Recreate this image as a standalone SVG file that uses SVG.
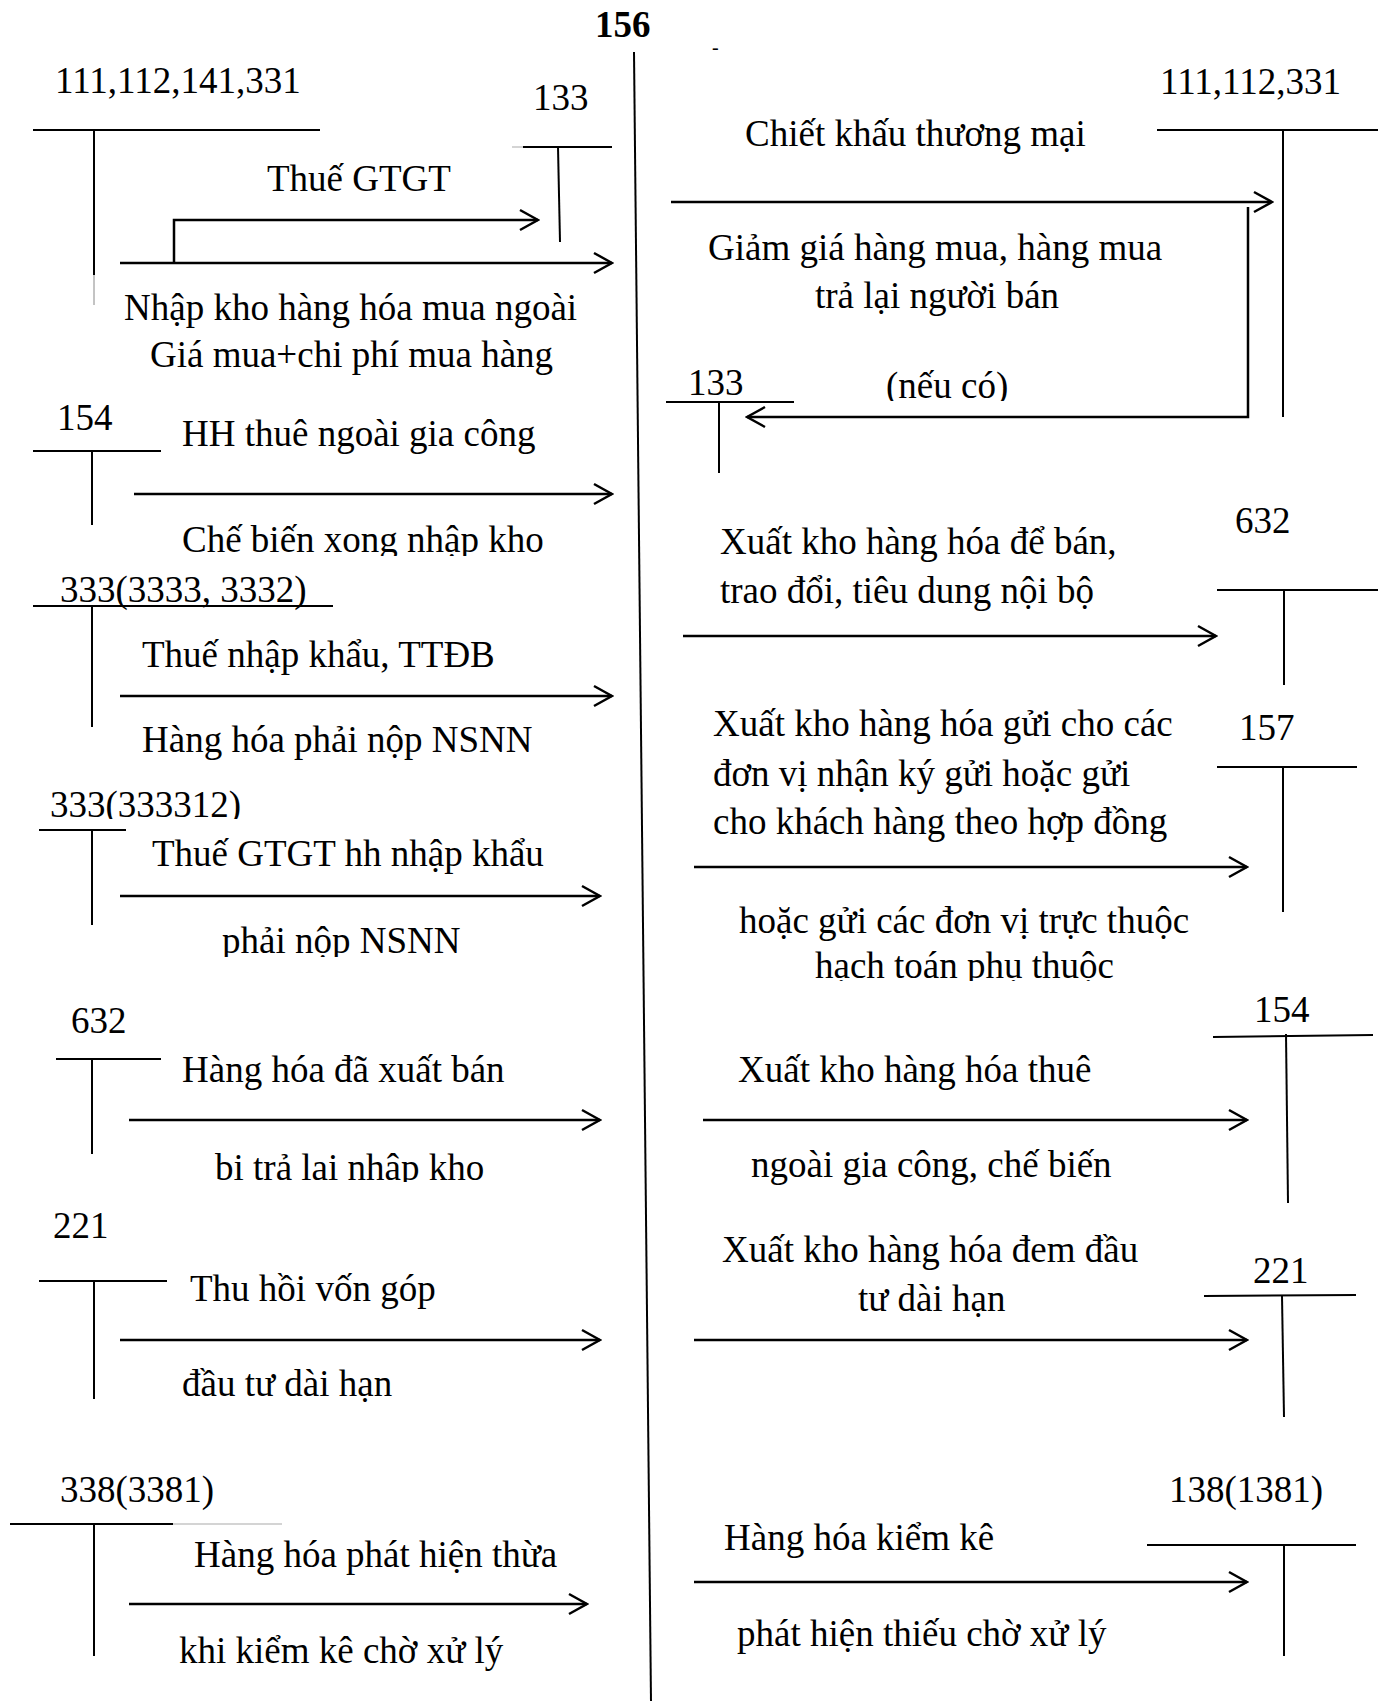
<svg xmlns="http://www.w3.org/2000/svg" width="1378" height="1701" viewBox="0 0 1378 1701">
<style>
text{font-family:"Liberation Serif","Times New Roman",serif;font-size:37px;fill:#000}
.b{font-weight:bold}
.t{stroke:#000;stroke-width:2;fill:none}
.lt{stroke:#d4d4d4;stroke-width:2;fill:none}
.a{stroke:#000;stroke-width:2.5;fill:none;marker-end:url(#arr)}
</style>
<defs>
<marker id="arr" markerUnits="userSpaceOnUse" viewBox="-21 -12 23 24" markerWidth="23" markerHeight="24" refX="0" refY="0" orient="auto">
<path d="M-18,-10 L0,0 L-18,10" fill="none" stroke="#000" stroke-width="2.5"/>
</marker>
<clipPath id="k556" clipPathUnits="userSpaceOnUse"><rect x="0" y="0" width="1378" height="556"/></clipPath>
<clipPath id="k819" clipPathUnits="userSpaceOnUse"><rect x="0" y="0" width="1378" height="819"/></clipPath>
<clipPath id="k957" clipPathUnits="userSpaceOnUse"><rect x="0" y="0" width="1378" height="957"/></clipPath>
<clipPath id="k1182" clipPathUnits="userSpaceOnUse"><rect x="0" y="0" width="1378" height="1182"/></clipPath>
<clipPath id="k401" clipPathUnits="userSpaceOnUse"><rect x="0" y="0" width="1378" height="401"/></clipPath>
<clipPath id="k981" clipPathUnits="userSpaceOnUse"><rect x="0" y="0" width="1378" height="981"/></clipPath>
</defs>
<rect width="1378" height="1701" fill="#fff"/>

<g id="acc-156">
<line class="t" x1="634" y1="52" x2="651" y2="1701"/>
<text class="b" x="595" y="37">156</text>
<text x="712" y="54" style="font-size:20px">-</text>
</g>

<g id="acc-111-112-141-331">
<text x="55" y="93">111,112,141,331</text>
<line class="t" x1="33" y1="130" x2="320" y2="130"/>
<line class="t" x1="94" y1="130" x2="94" y2="275"/>
<line x1="94" y1="275" x2="94" y2="305" stroke="#888" stroke-width="1"/>
</g>

<g id="acc-133-left">
<text x="533" y="110">133</text>
<line class="lt" x1="512" y1="147" x2="523" y2="147"/>
<line class="t" x1="523" y1="147" x2="612" y2="147"/>
<line class="t" x1="558" y1="147" x2="560" y2="242"/>
</g>

<g id="acc-154-left">
<text x="57" y="430">154</text>
<line class="t" x1="33" y1="451" x2="161" y2="451"/>
<line class="t" x1="92" y1="451" x2="92" y2="525"/>
</g>

<g id="acc-333-3333-3332">
<text x="60" y="602">333(3333, 3332)</text>
<line class="t" x1="33" y1="606" x2="333" y2="606"/>
<line class="t" x1="92" y1="606" x2="92" y2="727"/>
</g>

<g id="acc-333-333312">
<text x="50" y="817" clip-path="url(#k819)">333(333312)</text>
<line class="t" x1="39" y1="830" x2="126" y2="830"/>
<line class="t" x1="92" y1="830" x2="92" y2="925"/>
</g>

<g id="acc-632-left">
<text x="71" y="1033">632</text>
<line class="t" x1="56" y1="1059" x2="161" y2="1059"/>
<line class="t" x1="92" y1="1059" x2="92" y2="1154"/>
</g>

<g id="acc-221-left">
<text x="53" y="1238">221</text>
<line class="t" x1="39" y1="1281" x2="167" y2="1281"/>
<line class="t" x1="94" y1="1281" x2="94" y2="1399"/>
</g>

<g id="acc-338-3381">
<text x="60" y="1502">338(3381)</text>
<line class="t" x1="10" y1="1524" x2="173" y2="1524"/>
<line class="lt" x1="173" y1="1524" x2="282" y2="1524"/>
<line class="t" x1="94" y1="1524" x2="94" y2="1656"/>
</g>

<g id="acc-111-112-331">
<text x="1160" y="94">111,112,331</text>
<line class="t" x1="1157" y1="130" x2="1378" y2="130"/>
<line class="t" x1="1283" y1="130" x2="1283" y2="417"/>
</g>

<g id="acc-133-right">
<text x="688" y="395">133</text>
<line class="t" x1="666" y1="402" x2="794" y2="402"/>
<line class="t" x1="719" y1="402" x2="719" y2="473"/>
</g>

<g id="acc-632-right">
<text x="1235" y="533">632</text>
<line class="t" x1="1217" y1="590" x2="1378" y2="590"/>
<line class="t" x1="1284" y1="590" x2="1284" y2="685"/>
</g>

<g id="acc-157">
<text x="1239" y="740">157</text>
<line class="t" x1="1217" y1="767" x2="1357" y2="767"/>
<line class="t" x1="1283" y1="767" x2="1283" y2="912"/>
</g>

<g id="acc-154-right">
<text x="1254" y="1022">154</text>
<line class="t" x1="1213" y1="1037" x2="1373" y2="1035"/>
<line class="t" x1="1286" y1="1034" x2="1288" y2="1203"/>
</g>

<g id="acc-221-right">
<text x="1253" y="1283">221</text>
<line class="t" x1="1204" y1="1296" x2="1356" y2="1295"/>
<line class="t" x1="1282" y1="1296" x2="1284" y2="1417"/>
</g>

<g id="acc-138-1381">
<text x="1169" y="1502">138(1381)</text>
<line class="t" x1="1147" y1="1545" x2="1356" y2="1545"/>
<line class="t" x1="1284" y1="1545" x2="1284" y2="1656"/>
</g>

<g id="connectors">
<path class="a" d="M120,263 H612"/>
<path class="a" d="M174,263 V220 H538"/>
<path class="a" d="M134,494 H612"/>
<path class="a" d="M120,696 H612"/>
<path class="a" d="M120,896 H600"/>
<path class="a" d="M129,1120 H600"/>
<path class="a" d="M120,1340 H600"/>
<path class="a" d="M129,1604 H587"/>
<path class="a" d="M671,202 H1272"/>
<path class="a" d="M1248,207 V417 H747"/>
<path class="a" d="M683,636 H1216"/>
<path class="a" d="M694,867 H1247"/>
<path class="a" d="M703,1120 H1247"/>
<path class="a" d="M694,1340 H1247"/>
<path class="a" d="M694,1582 H1247"/>
</g>

<g id="labels">
<text x="267" y="191">Thuế GTGT</text>
<text x="124" y="320">Nhập kho hàng hóa mua ngoài</text>
<text x="150" y="367">Giá mua+chi phí mua hàng</text>
<text x="182" y="446">HH thuê ngoài gia công</text>
<text x="182" y="552" clip-path="url(#k556)">Chế biến xong nhập kho</text>
<text x="142" y="667">Thuế nhập khẩu, TTĐB</text>
<text x="142" y="752">Hàng hóa phải nộp NSNN</text>
<text x="152" y="866">Thuế GTGT hh nhập khẩu</text>
<text x="222" y="953" clip-path="url(#k957)">phải nộp NSNN</text>
<text x="182" y="1082">Hàng hóa đã xuất bán</text>
<text x="215" y="1180" clip-path="url(#k1182)">bị trả lại nhập kho</text>
<text x="190" y="1301">Thu hồi vốn góp</text>
<text x="182" y="1396">đầu tư dài hạn</text>
<text x="194" y="1567">Hàng hóa phát hiện thừa</text>
<text x="179" y="1663">khi kiểm kê chờ xử lý</text>
<text x="745" y="146">Chiết khấu thương mại</text>
<text x="708" y="260">Giảm giá hàng mua, hàng mua</text>
<text x="815" y="308">trả lại người bán</text>
<text x="886" y="398" clip-path="url(#k401)">(nếu có)</text>
<text x="720" y="554">Xuất kho hàng hóa để bán,</text>
<text x="720" y="603">trao đổi, tiêu dung nội bộ</text>
<text x="713" y="736">Xuất kho hàng hóa gửi cho các</text>
<text x="713" y="786">đơn vị nhận ký gửi hoặc gửi</text>
<text x="713" y="834">cho khách hàng theo hợp đồng</text>
<text x="739" y="933">hoặc gửi các đơn vị trực thuộc</text>
<text x="815" y="978" clip-path="url(#k981)">hạch toán phụ thuộc</text>
<text x="738" y="1082">Xuất kho hàng hóa thuê</text>
<text x="751" y="1177">ngoài gia công, chế biến</text>
<text x="722" y="1262">Xuất kho hàng hóa đem đầu</text>
<text x="858" y="1311">tư dài hạn</text>
<text x="724" y="1550">Hàng hóa kiểm kê</text>
<text x="737" y="1646">phát hiện thiếu chờ xử lý</text>
</g>
</svg>
